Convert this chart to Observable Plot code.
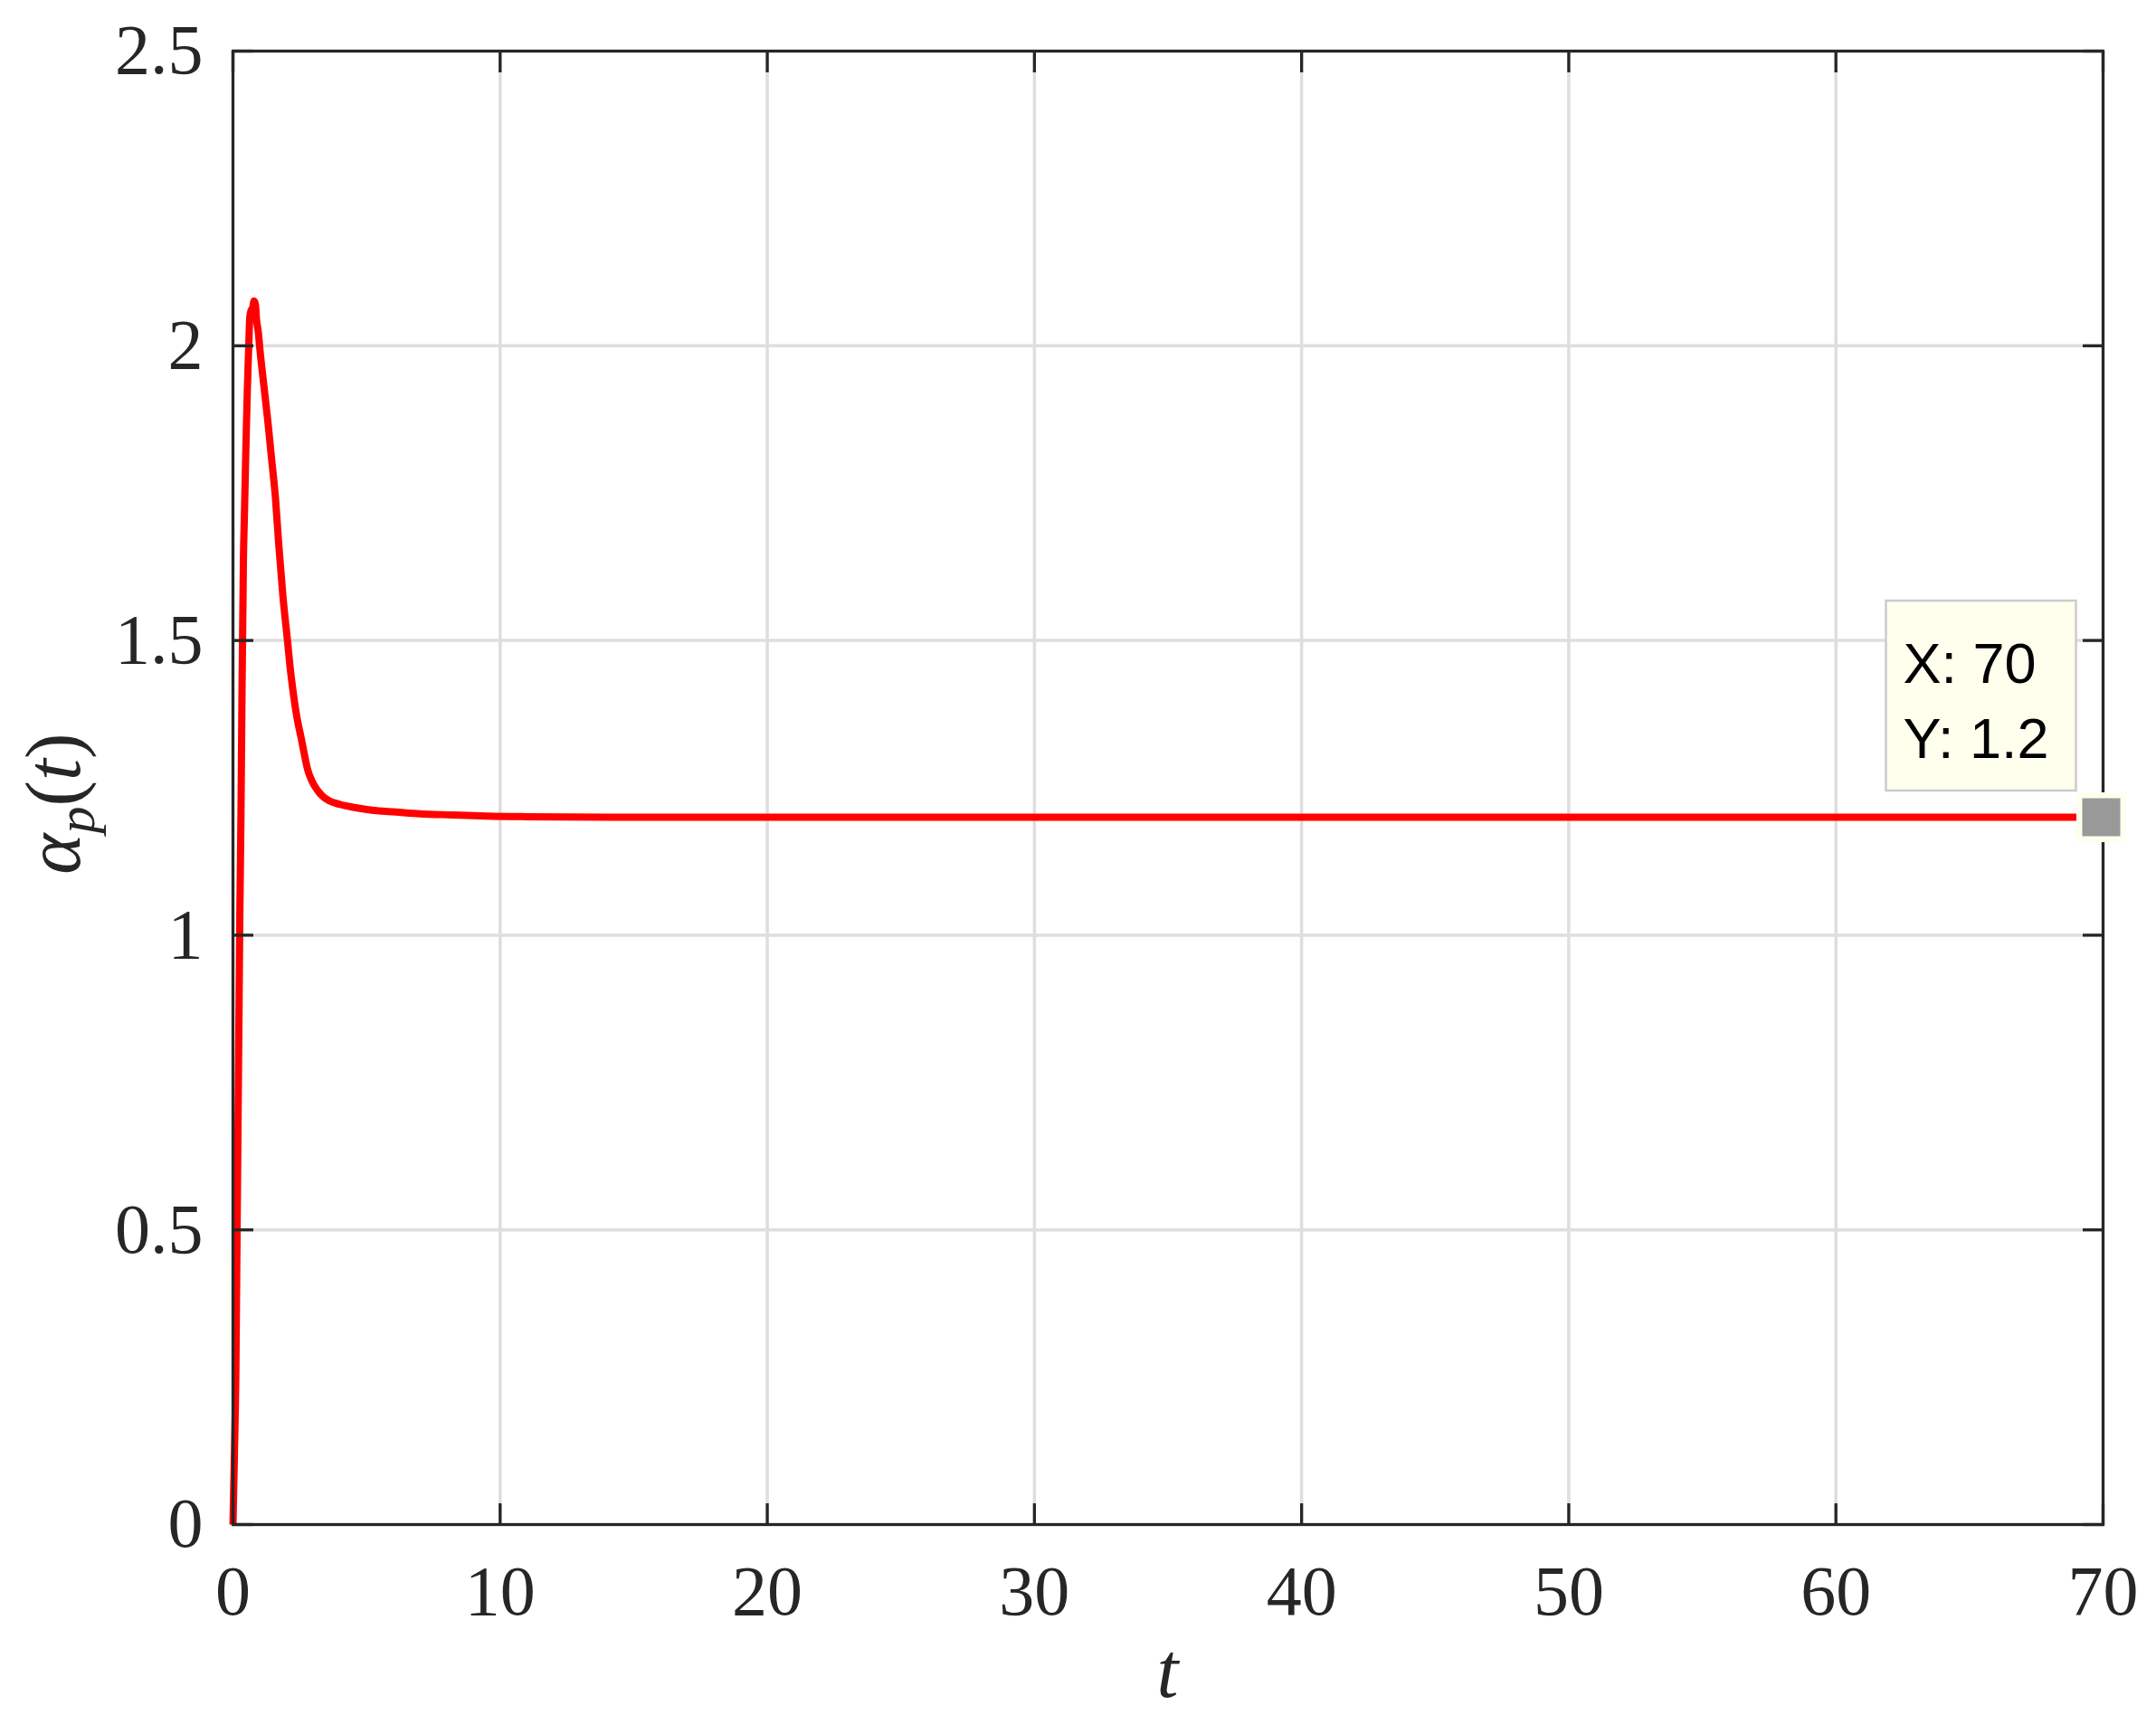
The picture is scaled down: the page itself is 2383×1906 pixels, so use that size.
<!DOCTYPE html>
<html>
<head>
<meta charset="utf-8">
<script src="https://cdn.jsdelivr.net/npm/d3@7"></script>
<script src="https://cdn.jsdelivr.net/npm/@observablehq/plot@0.6"></script>
<style>
  html, body { margin: 0; padding: 0; background: #fff; }
  #chart { width: 2383px; height: 1906px; }
</style>
</head>
<body>
<div id="chart"></div>
<script>
// ---- data ----
const tValues = [0, 0.05, 0.11, 0.14, 0.17, 0.20, 0.23, 0.26, 0.30, 0.34, 0.39, 0.43, 0.48, 0.535, 0.59, 0.63, 0.68, 0.74, 0.79, 0.84, 0.88, 0.95, 1.0, 1.15, 1.31, 1.45, 1.59, 1.71, 1.87, 2.04, 2.15, 2.26, 2.4, 2.56, 2.68, 2.79, 2.95, 3.16, 3.35, 3.6, 4.0, 4.5, 5.2, 6.1, 7.0, 8.2, 9.5, 11, 15, 20, 30, 40, 50, 60, 70];
const alphaValues = [0, 0.11, 0.266, 0.423, 0.579, 0.736, 0.892, 1.048, 1.205, 1.42, 1.634, 1.716, 1.819, 1.921, 1.998, 2.049, 2.06, 2.065, 2.076, 2.07, 2.045, 2.023, 1.998, 1.935, 1.87, 1.806, 1.742, 1.665, 1.575, 1.50, 1.45, 1.41, 1.368, 1.333, 1.305, 1.282, 1.262, 1.246, 1.236, 1.228, 1.222, 1.217, 1.212, 1.209, 1.206, 1.204, 1.202, 1.201, 1.2, 1.2, 1.2, 1.2, 1.2, 1.2, 1.2];
const xTicks = [0, 10, 20, 30, 40, 50, 60, 70];
const yTicks = [0, 0.5, 1, 1.5, 2, 2.5];
const xTickLabels = ["0", "10", "20", "30", "40", "50", "60", "70"];
const yTickLabels = ["0", "0.5", "1", "1.5", "2", "2.5"];
const tipT = [70];
const tipAlpha = [1.2];
const xLabel = "t";

const series = tValues.map((t, i) => ({t, a: alphaValues[i]}));
const tip = tipT.map((t, i) => ({t, a: tipAlpha[i]}));

const axisColor = "#262626";
const serif = "Liberation Serif, Times New Roman, serif";

const plot = Plot.plot({
  width: 2383,
  height: 1906,
  marginLeft: 257,
  marginRight: 59,
  marginTop: 56,
  marginBottom: 221,
  style: {background: "#fff", fontFamily: serif, overflow: "visible"},
  x: {domain: [0, 70]},
  y: {domain: [0, 2.5]},
  marks: [
    Plot.gridX({ticks: xTicks.slice(1, -1), stroke: "#dedede", strokeOpacity: 1, strokeWidth: 3.5}),
    Plot.gridY({ticks: yTicks.slice(1, -1), stroke: "#dedede", strokeOpacity: 1, strokeWidth: 3.5}),
    Plot.line(series, {x: "t", y: "a", curve: "monotone-x", stroke: "#ff0000", strokeWidth: 8, strokeLinejoin: "round", strokeLinecap: "butt"}),
    Plot.frame({stroke: axisColor, strokeWidth: 3.3}),
    Plot.axisX({anchor: "bottom", ticks: xTicks, tickSize: -23, tickPadding: 67,
      tickFormat: (d) => xTickLabels[xTicks.indexOf(d)], label: null,
      fontSize: 78, fontFamily: serif, stroke: axisColor, fill: axisColor, strokeWidth: 3.3}),
    Plot.axisX({anchor: "top", ticks: xTicks, tickSize: -23, tickFormat: () => "", label: null,
      stroke: axisColor, strokeWidth: 3.3}),
    Plot.axisY({anchor: "left", ticks: yTicks, tickSize: -23, tickPadding: 56,
      tickFormat: (d) => yTickLabels[yTicks.indexOf(d)], label: null,
      fontSize: 78, fontFamily: serif, stroke: axisColor, fill: axisColor, strokeWidth: 3.3}),
    Plot.axisY({anchor: "right", ticks: yTicks, tickSize: -23, tickFormat: () => "", label: null,
      stroke: axisColor, strokeWidth: 3.3}),
    // data tip box
    Plot.dot(tip, {x: "t", y: "a", symbol: "square", r: 118.5, dx: -135, dy: -134.5,
      fill: "#ffffee", stroke: "#cccccc", strokeWidth: 2.5}),
    Plot.text(tip, {x: "t", y: "a", text: (d) => `X: ${d.t}`, dx: -221, dy: -169, textAnchor: "start",
      fontSize: 63, fontFamily: "Liberation Sans, Arial, sans-serif", fill: "#000"}),
    Plot.text(tip, {x: "t", y: "a", text: (d) => `Y: ${d.a}`, dx: -221, dy: -86, textAnchor: "start",
      fontSize: 63, fontFamily: "Liberation Sans, Arial, sans-serif", fill: "#000"}),
    // data tip marker
    Plot.dot(tip, {x: "t", y: "a", dx: -2, symbol: "square", r: 31, fill: "#ffffee", stroke: "none"}),
    Plot.dot(tip, {x: "t", y: "a", dx: -2, symbol: "square", r: 23.7, fill: "#999999", stroke: "none"})
  ]
});

document.getElementById("chart").appendChild(plot);

// axis titles (LaTeX-like, italic)
const svg = d3.select(plot);
const xs = plot.scale("x"), ys = plot.scale("y");
const xMid = (xs.range[0] + xs.range[1]) / 2;
const yMid = (ys.range[0] + ys.range[1]) / 2;

svg.append("text")
  .attr("x", xMid)
  .attr("y", 1876)
  .attr("text-anchor", "middle")
  .attr("font-family", serif)
  .attr("font-style", "italic")
  .attr("font-size", 86)
  .attr("fill", axisColor)
  .text(xLabel);

const yl = svg.append("text")
  .attr("transform", `translate(88,${yMid + 18}) rotate(-90)`)
  .attr("text-anchor", "middle")
  .attr("font-family", serif)
  .attr("font-size", 86)
  .attr("fill", axisColor);
yl.append("tspan").attr("font-style", "italic").text("α");
yl.append("tspan").attr("font-style", "italic").attr("font-size", 60).attr("dy", 16).text("p");
yl.append("tspan").attr("dy", -16).text("(");
yl.append("tspan").attr("font-style", "italic").text("t");
yl.append("tspan").text(")");
</script>
</body>
</html>
